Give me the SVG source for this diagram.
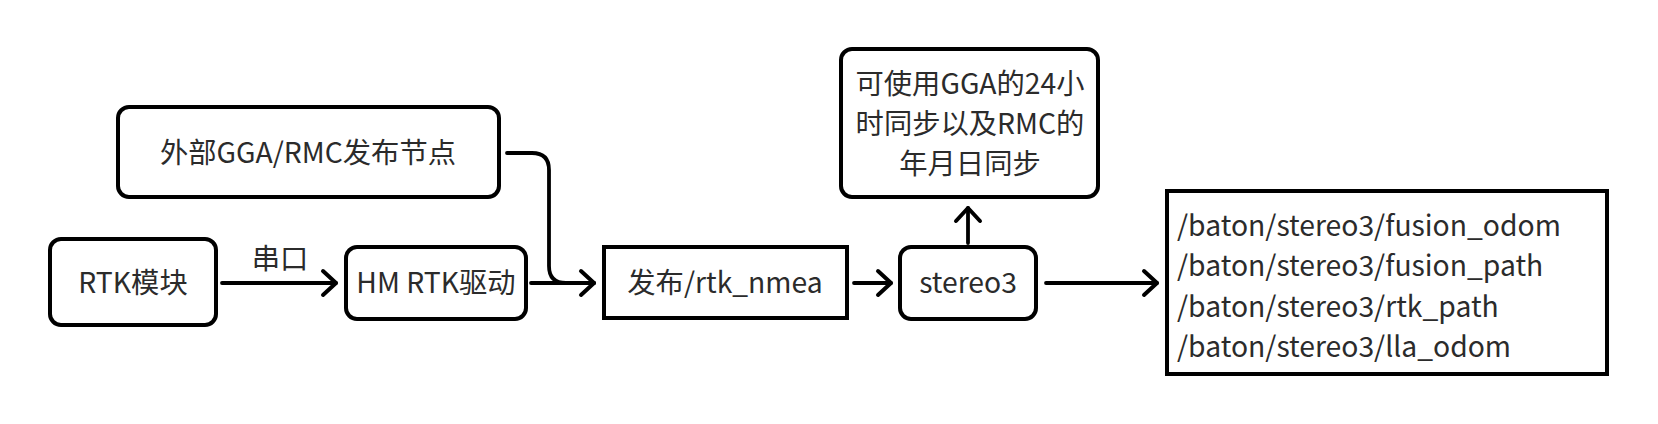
<svg xmlns="http://www.w3.org/2000/svg" width="1658" height="424" viewBox="0 0 1658 424">
<defs>
<marker id="arr" viewBox="0 0 22 30" refX="19" refY="15" markerWidth="22" markerHeight="30" markerUnits="userSpaceOnUse" orient="auto">
<path d="M6 3 L19 15 L6 27" fill="none" stroke="#000" stroke-width="4" stroke-linecap="round" stroke-linejoin="round"/>
</marker>
</defs>
<style>
.box{fill:#fff;stroke:#000;stroke-width:4}
.t{font-family:"Noto Sans CJK SC","Noto Sans",sans-serif;font-size:28.3px;fill:#2b2b2b}
.c{text-anchor:middle}
.e{fill:none;stroke:#000;stroke-width:3.8;stroke-linecap:round;stroke-linejoin:round}
</style>
<rect width="1658" height="424" fill="#fff"/>
<g id="connectors">
<path class="e" d="M222 283 H336" marker-end="url(#arr)"/>
<path class="e" d="M531 283 H594" marker-end="url(#arr)"/>
<path class="e" d="M507 153 H532 Q549 153 549 170 V266 Q549 283 566 283 H594"/>
<path class="e" d="M854 283 H891" marker-end="url(#arr)"/>
<path class="e" d="M968 243 V208" marker-end="url(#arr)"/>
<path class="e" d="M1046 283 H1157" marker-end="url(#arr)"/>
<text class="t c" x="280" y="269">串口</text>
</g>
<g id="ext">
<rect class="box" x="118" y="107" width="381" height="90" rx="11"/>
<text class="t c" x="308" y="163">外部GGA/RMC发布节点</text>
</g>
<g id="rtk">
<rect class="box" x="50" y="239" width="166" height="86" rx="11"/>
<text class="t c" x="133" y="293">RTK模块</text>
</g>
<g id="hm">
<rect class="box" x="346" y="247" width="180" height="72" rx="11"/>
<text class="t c" x="436" y="293">HM RTK驱动</text>
</g>
<g id="pub">
<rect class="box" x="604" y="247" width="243" height="71"/>
<text class="t c" x="725" y="293">发布/rtk_nmea</text>
</g>
<g id="stereo">
<rect class="box" x="900" y="247" width="136" height="72" rx="11"/>
<text class="t c" x="968" y="293">stereo3</text>
</g>
<g id="note">
<rect class="box" x="841" y="49" width="257" height="148" rx="11"/>
<text class="t c" x="970" y="94">可使用GGA的24小</text>
<text class="t c" x="970" y="134">时同步以及RMC的</text>
<text class="t c" x="970" y="174">年月日同步</text>
</g>
<g id="topics">
<rect class="box" x="1167" y="191" width="440" height="183"/>
<text class="t" x="1177" y="236">/baton/stereo3/fusion_odom</text>
<text class="t" x="1177" y="276">/baton/stereo3/fusion_path</text>
<text class="t" x="1177" y="317">/baton/stereo3/rtk_path</text>
<text class="t" x="1177" y="357">/baton/stereo3/lla_odom</text>
</g>
</svg>
